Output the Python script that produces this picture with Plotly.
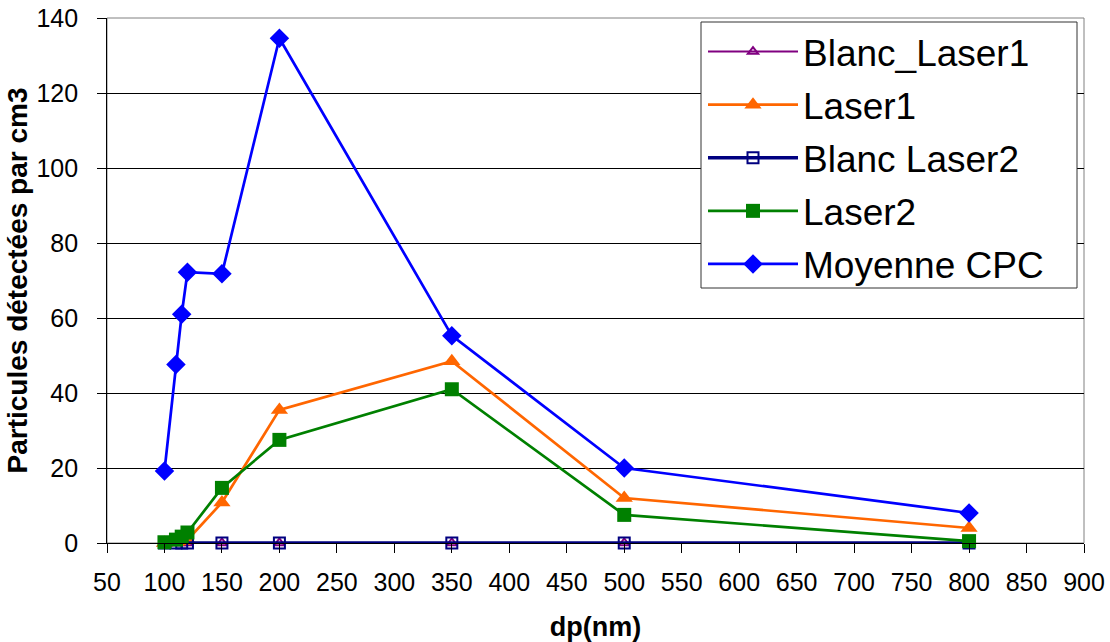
import plotly.graph_objects as go

dp = [100, 110, 115, 120, 150, 200, 350, 500, 800]
blanc_laser1 = [0, 0, 0, 0, 0, 0, 0, 0, 0]
laser1 = [0, 0.3, 0.5, 0.8, 10.8, 35.5, 48.5, 12, 4]
blanc_laser2 = [0, 0, 0, 0, 0, 0, 0, 0, 0]
laser2 = [0.2, 0.9, 1.7, 2.8, 14.7, 27.5, 41, 7.5, 0.5]
moyenne_cpc = [19.2, 47.6, 61, 72.2, 71.8, 134.6, 55.3, 20, 8]

series = [
    ("Blanc_Laser1", blanc_laser1, "#800080", "triangle-up-open", 9, 2),
    ("Laser1", laser1, "#FF6600", "triangle-up", 15, 2.7),
    ("Blanc Laser2", blanc_laser2, "#000080", "square-open", 11, 3.4),
    ("Laser2", laser2, "#008000", "square", 14, 2.7),
    ("Moyenne CPC", moyenne_cpc, "#0000FF", "diamond", 15, 2.7),
]

fig = go.Figure()
for i, (name, vals, color, sym, size, lw) in enumerate(series):
    fig.add_trace(go.Scatter(
        x=dp, y=vals, name=name, mode="lines+markers",
        legendgroup=f"g{i}",
        line=dict(color=color, width=lw),
        marker=dict(symbol=sym, size=size, color=color,
                    line=dict(color=color, width=2 if "open" in sym else 0)),
        cliponaxis=False,
    ))

# plot area in pixels: x 107..1084, y 18..543
L, R, T, B = 107, 1084, 18, 543
W, H = R - L, B - T

def px(x):
    return (x - L) / W

def py(y):
    return (B - y) / H

fig.update_layout(
    width=1110, height=642,
    margin=dict(l=L, r=1110 - R, t=T, b=642 - B),
    paper_bgcolor="white", plot_bgcolor="white",
    font=dict(family="Liberation Sans, Arial, sans-serif", color="black"),
    showlegend=True,
    legend=dict(
        x=px(703), y=py(21), xanchor="left", yanchor="top",
        bgcolor="rgba(0,0,0,0)", borderwidth=0,
        font=dict(size=37, color="black"),
        traceorder="grouped", tracegroupgap=2,
        itemwidth=90,
    ),
    shapes=[
        dict(type="rect", xref="paper", yref="paper", x0=0, x1=1, y0=0, y1=1,
             line=dict(color="#808080", width=1), layer="below"),
        dict(type="rect", xref="paper", yref="paper",
             x0=px(701), x1=px(1077), y0=py(288), y1=py(22),
             line=dict(color="#333333", width=1), fillcolor="white", layer="above"),
    ],
)

fig.update_xaxes(
    range=[50, 900], dtick=50, tick0=50, automargin=False,
    showgrid=False, zeroline=False,
    showline=True, linecolor="black", linewidth=1,
    ticks="outside", ticklen=9, tickcolor="black",
    tickfont=dict(size=25), ticklabelstandoff=8, ticklabeloverflow="allow",
    title=dict(text="<b>dp(nm)</b>", font=dict(size=27), standoff=22),
)
fig.update_yaxes(
    range=[0, 140], dtick=20, automargin=False,
    showgrid=True, gridcolor="black", gridwidth=1,
    zeroline=False,
    showline=True, linecolor="black", linewidth=1,
    ticks="outside", ticklen=9, tickcolor="black",
    tickfont=dict(size=25), ticksuffix="\u00a0\u00a0", ticklabeloverflow="allow",
    title=dict(text="<b>Particules détectées par cm3</b>", font=dict(size=28), standoff=0),
)

fig.write_html("out.html", config={"displayModeBar": False},
               post_script="document.body.style.margin='0';")
